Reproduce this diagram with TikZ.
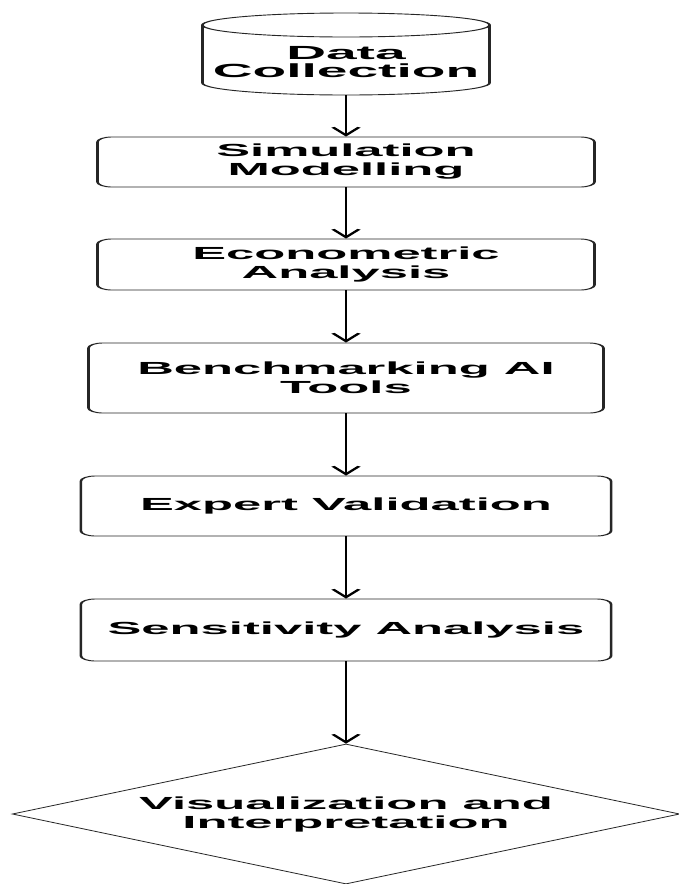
\documentclass[tikz,border=0pt]{standalone}
\usepackage{fontspec}
\setmainfont{Liberation Sans}
\usetikzlibrary{shapes.geometric,arrows.meta}
\begin{document}
\begin{tikzpicture}[x=1pt,y=1pt,
  txt/.style={font=\fontsize{17.5}{19}\selectfont\bfseries, align=center, text=black},
  box/.style={txt, draw=black!85, line width=0.9pt, rounded corners=5pt, fill=white, inner sep=0pt},
  cyl/.style={draw=black!85, line width=0.9pt, fill=white},
  flow/.style={draw=black, line width=0.9pt, -{Straight Barb[length=8pt,width=9pt,line width=1.3pt]}}]
\useasboundingbox (-346,0) rectangle (333,-884);
\fill[white] (-346,0) rectangle (333,-884);
\begin{scope}[transform canvas={xscale=2.9}]
  % cylinder
  \path[cyl] (-49.5,-25) -- (-49.5,-83) arc[start angle=180,end angle=360,x radius=49.5,y radius=12] -- (49.5,-25) -- cycle;
  \draw[cyl] (0,-25) ellipse[x radius=49.5, y radius=12];
  \node[txt, font=\fontsize{19}{18.5}\selectfont\bfseries, minimum width=99pt, minimum height=66pt, inner sep=0pt] (dc) at (0,-62) {Data\\Collection};
  % boxes
  \node[box, minimum width=171.4pt, minimum height=50pt] (sim) at (0,-162) {Simulation\\Modelling};
  \node[box, minimum width=171.4pt, minimum height=51pt] (eco) at (0,-264.5) {Econometric\\Analysis};
  \node[box, minimum width=177.6pt, minimum height=70pt] (ben) at (0,-378) {Benchmarking AI\\Tools};
  \node[box, minimum width=182.8pt, minimum height=60pt] (exp) at (0,-506) {Expert Validation};
  \node[box, minimum width=182.8pt, minimum height=62pt] (sen) at (0,-630) {Sensitivity Analysis};
  \node[txt, diamond, draw=black!85, line width=0.7pt, fill=white, aspect=1.65, inner sep=0pt, minimum width=230.3pt, minimum height=140pt] (vis) at (0,-814) {Visualization and\\Interpretation};
  % connectors
  \draw[flow] (dc.south) -- (sim.north);
  \draw[flow] (sim.south) -- (eco.north);
  \draw[flow] (eco.south) -- (ben.north);
  \draw[flow] (ben.south) -- (exp.north);
  \draw[flow] (exp.south) -- (sen.north);
  \draw[flow] (sen.south) -- (vis.north);
\end{scope}
\end{tikzpicture}
\end{document}
